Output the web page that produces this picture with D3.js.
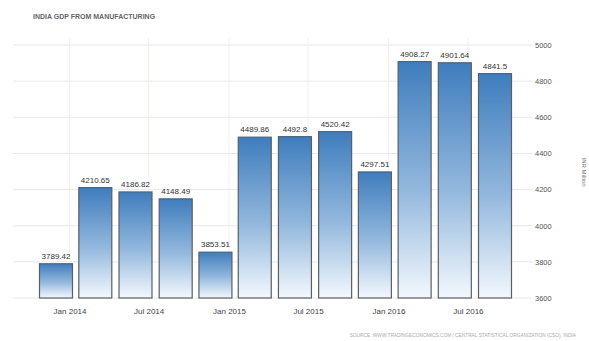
<!DOCTYPE html>
<html>
<head>
<meta charset="utf-8">
<script src="https://cdn.jsdelivr.net/npm/d3@7"></script>
<style>
  html, body { margin: 0; padding: 0; background: #fff; }
  svg { display: block; font-family: "Liberation Sans", Arial, sans-serif; }
</style>
</head>
<body>
<svg id="chart" width="589" height="341"></svg>
<script>
// Quarterly GDP from manufacturing (INR Million), dated by quarter-end month
const quarters = ["2013-12", "2014-03", "2014-06", "2014-09", "2014-12", "2015-03",
                  "2015-06", "2015-09", "2015-12", "2016-03", "2016-06", "2016-09"];
const values = [3789.42, 4210.65, 4186.82, 4148.49, 3853.51, 4489.86,
                4492.8, 4520.42, 4297.51, 4908.27, 4901.64, 4841.5];
const yTicks = [3600, 3800, 4000, 4200, 4400, 4600, 4800, 5000];
const xTicks = ["2014-01", "2014-07", "2015-01", "2015-07", "2016-01", "2016-07"];

const parse = d3.timeParse("%Y-%m");
const data = quarters.map((q, i) => ({ date: parse(q), value: values[i] }));

const svg = d3.select("#chart");
const gridLeft = 13, gridRight = 532;
const barW = 33;

const x = d3.scaleTime()
  .domain([parse("2013-12"), parse("2016-09")])
  .range([56, 495]);

const y = d3.scaleLinear()
  .domain([3600, 5000])
  .range([298, 45]);

// gradient fill for bars
const defs = svg.append("defs");
const grad = defs.append("linearGradient")
  .attr("id", "barFill").attr("x1", 0).attr("y1", 0).attr("x2", 0).attr("y2", 1);
grad.append("stop").attr("offset", "0%").attr("stop-color", "#3f7dbd");
grad.append("stop").attr("offset", "55%").attr("stop-color", "#94b9de");
grad.append("stop").attr("offset", "100%").attr("stop-color", "#f3f8fd");

// title
svg.append("text")
  .attr("x", 33).attr("y", 19)
  .attr("font-size", 7).attr("font-weight", "bold")
  .attr("fill", "#666")
  .text("INDIA GDP FROM MANUFACTURING");

// horizontal grid lines
svg.append("g")
  .selectAll("line")
  .data(yTicks)
  .join("line")
  .attr("x1", gridLeft).attr("x2", gridRight)
  .attr("y1", d => y(d)).attr("y2", d => y(d))
  .attr("stroke", "#e8e8e8").attr("stroke-width", 1);

// vertical grid lines at date ticks
svg.append("g")
  .selectAll("line")
  .data(xTicks.map(parse))
  .join("line")
  .attr("x1", d => x(d)).attr("x2", d => x(d))
  .attr("y1", 38).attr("y2", 298)
  .attr("stroke", "#f4efe8").attr("stroke-width", 1);

// right value axis
const yAxis = d3.axisRight(y)
  .tickValues(yTicks)
  .tickSize(0)
  .tickPadding(3)
  .tickFormat(d3.format("d"));
const yAxisG = svg.append("g")
  .attr("transform", `translate(${gridRight},0)`)
  .call(yAxis);
yAxisG.select(".domain").remove();
yAxisG.selectAll("text")
  .attr("font-size", 7.5).attr("fill", "#555")
  .attr("font-family", "Liberation Sans, Arial, sans-serif");

// bottom date axis
const xAxis = d3.axisBottom(x)
  .tickValues(xTicks.map(parse))
  .tickSize(0)
  .tickPadding(8)
  .tickFormat(d3.timeFormat("%b %Y"));
const xAxisG = svg.append("g")
  .attr("transform", "translate(0,300)")
  .call(xAxis);
xAxisG.select(".domain").remove();
xAxisG.selectAll("text")
  .attr("font-size", 8).attr("fill", "#444")
  .attr("font-family", "Liberation Sans, Arial, sans-serif");

// bars
svg.append("g")
  .selectAll("rect")
  .data(data)
  .join("rect")
  .attr("x", d => x(d.date) - barW / 2)
  .attr("width", barW)
  .attr("y", d => y(d.value))
  .attr("height", d => y(3600) - y(d.value))
  .attr("fill", "url(#barFill)")
  .attr("stroke", "#5a5f66")
  .attr("stroke-width", 1.2);

// value labels
svg.append("g")
  .selectAll("text")
  .data(data)
  .join("text")
  .attr("x", d => x(d.date))
  .attr("y", d => y(d.value) - 5)
  .attr("text-anchor", "middle")
  .attr("font-size", 8)
  .attr("fill", "#333")
  .text(d => String(d.value));

// unit label on the right edge
svg.append("text")
  .attr("transform", "translate(582,172) rotate(90)")
  .attr("text-anchor", "middle")
  .attr("font-size", 6)
  .attr("fill", "#777")
  .text("INR Million");

// source line
svg.append("text")
  .attr("x", 576).attr("y", 337)
  .attr("text-anchor", "end")
  .attr("font-size", 4.8)
  .attr("fill", "#aaa")
  .text("SOURCE: WWW.TRADINGECONOMICS.COM | CENTRAL STATISTICAL ORGANIZATION (CSO), INDIA");
</script>
</body>
</html>
